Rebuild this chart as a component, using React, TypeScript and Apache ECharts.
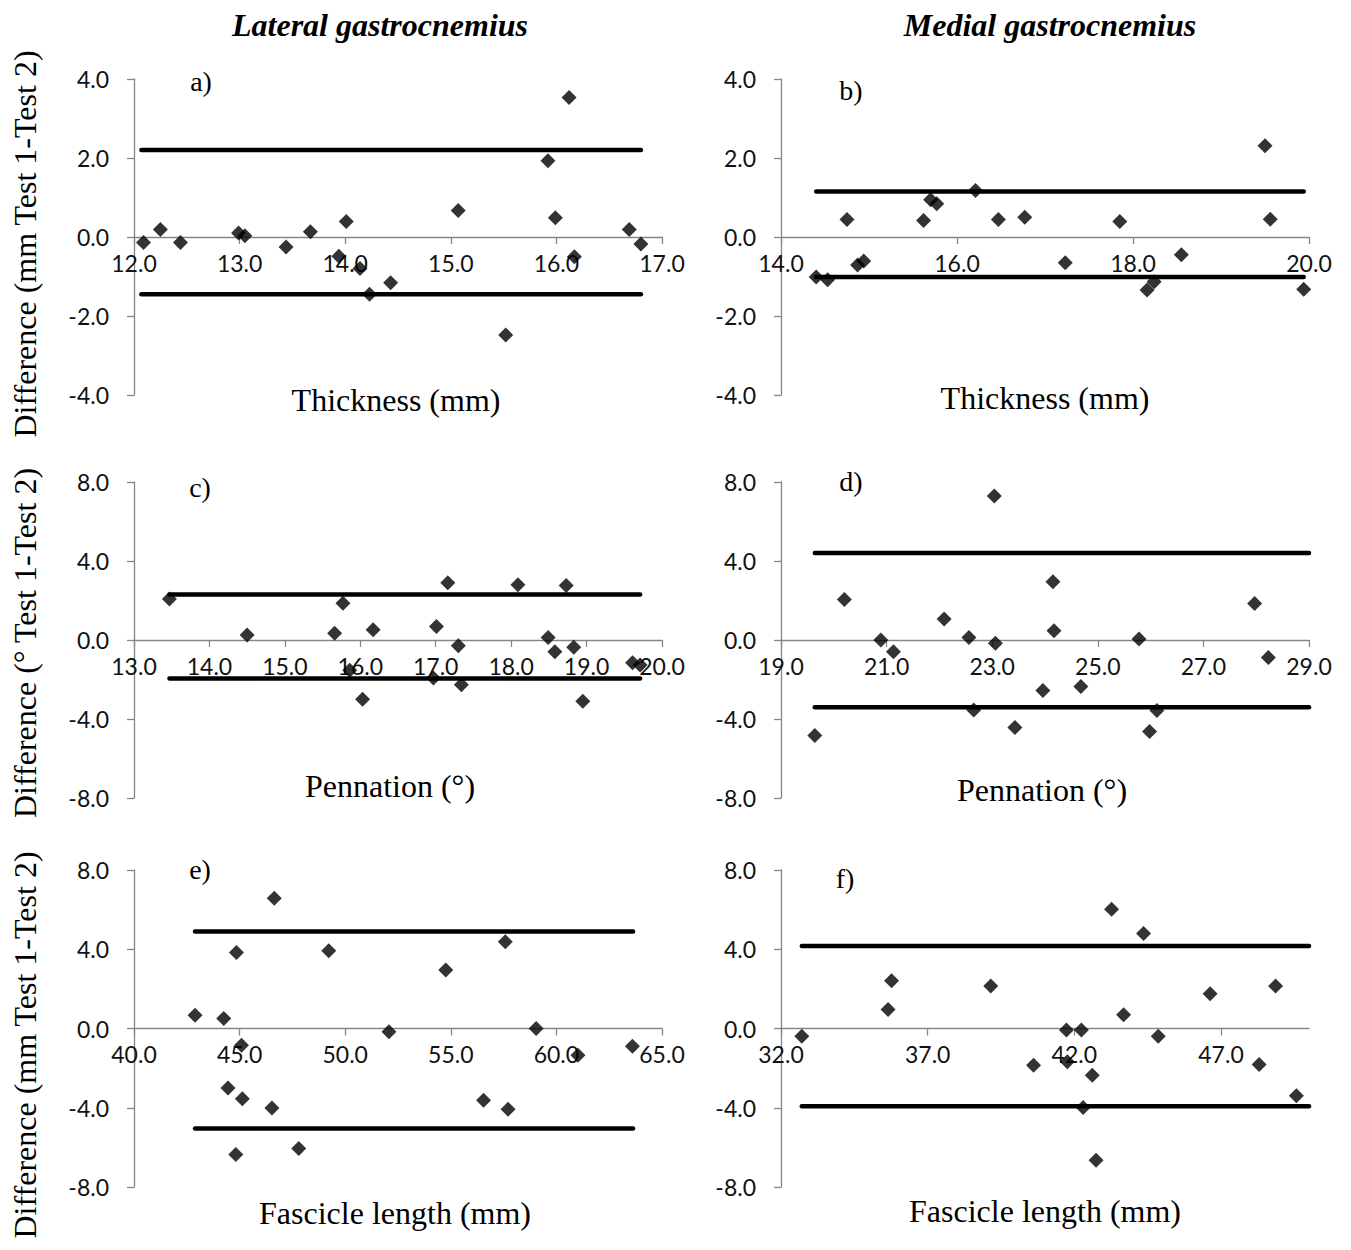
import React, { useEffect, useRef } from "react";
import * as echarts from "echarts";

// ---------- data ----------
// a) Lateral gastrocnemius – thickness
const aX = [12.09, 12.25, 12.44, 12.99, 13.05, 13.44, 13.67, 13.94, 14.01, 14.14, 14.23, 14.43, 15.07, 15.52, 15.92, 15.99, 16.12, 16.17, 16.69, 16.8];
const aY = [-0.14, 0.19, -0.14, 0.1, 0.03, -0.25, 0.13, -0.49, 0.39, -0.8, -1.45, -1.16, 0.67, -2.48, 1.93, 0.49, 3.53, -0.5, 0.19, -0.18];
const aLimits = [2.2, -1.45];
const aRange = [12.07, 16.8];
const aTicks = [12, 13, 14, 15, 16, 17];

// b) Medial gastrocnemius – thickness
const bX = [14.4, 14.53, 14.75, 14.87, 14.94, 15.62, 15.7, 15.77, 16.21, 16.47, 16.77, 17.23, 17.85, 18.16, 18.24, 18.55, 19.5, 19.56, 19.94];
const bY = [-1.01, -1.08, 0.44, -0.71, -0.61, 0.42, 0.94, 0.84, 1.18, 0.44, 0.5, -0.65, 0.39, -1.34, -1.13, -0.45, 2.31, 0.45, -1.32];
const bLimits = [1.15, -1.01];
const bRange = [14.4, 19.94];
const bTicks = [14, 16, 18, 20];

// c) Lateral gastrocnemius – pennation
const cX = [13.47, 14.5, 15.66, 15.77, 15.86, 16.03, 16.17, 16.97, 17.01, 17.16, 17.3, 17.34, 18.09, 18.49, 18.58, 18.73, 18.83, 18.95, 19.61, 19.71];
const cY = [2.08, 0.25, 0.34, 1.86, -1.53, -3.0, 0.52, -1.93, 0.68, 2.9, -0.29, -2.27, 2.8, 0.13, -0.59, 2.76, -0.37, -3.1, -1.15, -1.27];
const cLimits = [2.3, -1.95];
const cRange = [13.47, 19.71];
const cTicks = [13, 14, 15, 16, 17, 18, 19, 20];

// d) Medial gastrocnemius – pennation
const dX = [19.64, 20.2, 20.89, 21.13, 22.09, 22.56, 22.65, 23.04, 23.06, 23.43, 23.96, 24.15, 24.17, 24.68, 25.78, 25.98, 26.12, 27.97, 28.23];
const dY = [-4.83, 2.05, 0.0, -0.59, 1.06, 0.13, -3.54, 7.29, -0.17, -4.43, -2.56, 2.95, 0.47, -2.36, 0.05, -4.63, -3.57, 1.85, -0.89];
const dLimits = [4.41, -3.4];
const dRange = [19.64, 29.0];
const dTicks = [19, 21, 23, 25, 27, 29];

// e) Lateral gastrocnemius – fascicle length
const eX = [42.89, 44.25, 44.45, 44.82, 44.85, 45.09, 45.13, 46.53, 46.64, 47.8, 49.22, 52.07, 54.76, 56.55, 57.58, 57.71, 59.04, 61.02, 63.6];
const eY = [0.67, 0.51, -3.0, -6.36, 3.84, -0.84, -3.54, -4.01, 6.57, -6.06, 3.92, -0.17, 2.95, -3.62, 4.38, -4.07, 0.0, -1.35, -0.89];
const eLimits = [4.9, -5.05];
const eRange = [42.89, 63.63];
const eTicks = [40, 45, 50, 55, 60, 65];

// f) Medial gastrocnemius – fascicle length
const fX = [32.71, 35.65, 35.77, 39.15, 40.61, 41.73, 41.76, 42.24, 42.3, 42.61, 42.74, 43.27, 43.68, 44.36, 44.86, 46.63, 48.3, 48.86, 49.57];
const fY = [-0.39, 0.96, 2.41, 2.14, -1.85, -0.08, -1.68, -0.08, -3.99, -2.36, -6.65, 6.02, 0.69, 4.8, -0.39, 1.75, -1.82, 2.14, -3.4];
const fLimits = [4.16, -3.92];
const fRange = [32.71, 50.0];
const fTicks = [32, 37, 42, 47];

const yTicksSmall = [-4, -2, 0, 2, 4];
const yTicksLarge = [-8, -4, 0, 4, 8];

const columnTitles = ["Lateral gastrocnemius", "Medial gastrocnemius"];
const panelLabels = ["a)", "b)", "c)", "d)", "e)", "f)"];
const xNames = ["Thickness (mm)", "Thickness (mm)", "Pennation (°)", "Pennation (°)", "Fascicle length (mm)", "Fascicle length (mm)"];
const yNames = ["Difference (mm Test 1-Test 2)", "Difference (° Test 1-Test 2)", "Difference (mm Test 1-Test 2)"];

// ---------- layout ----------
const SERIF = "'Liberation Serif', 'Times New Roman', serif";
const SANS = "Lato, 'Open Sans', sans-serif";
const AXIS_GREY = "#868686";
const COL_LEFT = [134, 781];
const PLOT_W = 528;
const ROW_TOP = [79, 482, 870];
const ROW_H = [316, 316, 317];

const panels = [
  { xs: aX, ys: aY, lim: aLimits, range: aRange, xTicks: aTicks, yTicks: yTicksSmall },
  { xs: bX, ys: bY, lim: bLimits, range: bRange, xTicks: bTicks, yTicks: yTicksSmall },
  { xs: cX, ys: cY, lim: cLimits, range: cRange, xTicks: cTicks, yTicks: yTicksLarge },
  { xs: dX, ys: dY, lim: dLimits, range: dRange, xTicks: dTicks, yTicks: yTicksLarge },
  { xs: eX, ys: eY, lim: eLimits, range: eRange, xTicks: eTicks, yTicks: yTicksLarge },
  { xs: fX, ys: fY, lim: fLimits, range: fRange, xTicks: fTicks, yTicks: yTicksLarge },
];
const xMax = [17, 20, 20, 29, 65, 50];

const labelPos = [
  [201, 81], [851, 90], [200, 487], [851, 481], [200, 869], [845, 878],
];
const xNamePos = [
  [396, 400], [1045, 398], [390, 786], [1042, 790], [395, 1213], [1045, 1211],
];
const yNamePos = [[25, 244], [25, 643], [25, 1045]];
const titlePos = [[380, 25], [1050, 25]];

function buildOption() {
  const grid: any[] = [];
  const xAxis: any[] = [];
  const yAxis: any[] = [];
  const series: any[] = [];
  panels.forEach((p, i) => {
    const row = Math.floor(i / 2);
    const col = i % 2;
    grid.push({ left: COL_LEFT[col], top: ROW_TOP[row], width: PLOT_W, height: ROW_H[row], containLabel: false });
    const yMin = p.yTicks[0];
    const yMaxV = p.yTicks[p.yTicks.length - 1];
    // the x axis crosses at y = 0: shift it up from the grid's bottom edge
    const zeroOffset = -ROW_H[row] * (0 - yMin) / (yMaxV - yMin);
    xAxis.push({
      type: "value",
      gridIndex: i,
      position: "bottom",
      offset: zeroOffset,
      min: p.xTicks[0],
      max: xMax[i],
      axisLine: { show: true, onZero: false, lineStyle: { color: AXIS_GREY, width: 1.3 } },
      axisTick: { show: true, length: 7, customValues: p.xTicks, lineStyle: { color: AXIS_GREY, width: 1.3 } },
      axisLabel: {
        customValues: p.xTicks,
        formatter: (v: number) => v.toFixed(1),
        margin: 14,
        fontFamily: SANS,
        fontSize: 23,
        color: "#111",
      },
      splitLine: { show: false },
    });
    yAxis.push({
      type: "value",
      gridIndex: i,
      min: yMin,
      max: yMaxV,
      axisLine: { show: true, onZero: false, lineStyle: { color: AXIS_GREY, width: 1.3 } },
      axisTick: { show: true, length: 7, customValues: p.yTicks, lineStyle: { color: AXIS_GREY, width: 1.3 } },
      axisLabel: {
        customValues: p.yTicks,
        formatter: (v: number) => v.toFixed(1),
        margin: 25,
        fontFamily: SANS,
        fontSize: 23,
        color: "#111",
      },
      splitLine: { show: false },
    });
    p.lim.forEach((l) => {
      series.push({
        type: "line",
        xAxisIndex: i,
        yAxisIndex: i,
        data: [[p.range[0], l], [p.range[1], l]],
        symbol: "none",
        silent: true,
        lineStyle: { color: "#000", width: 4.5, cap: "round" },
        z: 2,
      });
    });
    series.push({
      type: "scatter",
      xAxisIndex: i,
      yAxisIndex: i,
      symbol: "diamond",
      symbolSize: 15,
      itemStyle: { color: "#000" },
      data: p.xs.map((x, k) => [x, p.ys[k]]),
      z: 3,
    });
  });

  const graphic: any[] = [];
  columnTitles.forEach((t, i) => {
    graphic.push({
      type: "text",
      x: titlePos[i][0],
      y: titlePos[i][1],
      style: {
        text: t,
        fontFamily: SERIF,
        fontSize: 32,
        fontWeight: "bold",
        fontStyle: "italic",
        fill: "#000",
        align: "center",
        verticalAlign: "middle",
      },
    });
  });
  panelLabels.forEach((t, i) => {
    graphic.push({
      type: "text",
      x: labelPos[i][0],
      y: labelPos[i][1],
      style: { text: t, fontFamily: SERIF, fontSize: 28, fill: "#000", align: "center", verticalAlign: "middle" },
    });
  });
  xNames.forEach((t, i) => {
    graphic.push({
      type: "text",
      x: xNamePos[i][0],
      y: xNamePos[i][1],
      style: { text: t, fontFamily: SERIF, fontSize: 32, fill: "#000", align: "center", verticalAlign: "middle" },
    });
  });
  yNames.forEach((t, i) => {
    graphic.push({
      type: "text",
      x: yNamePos[i][0],
      y: yNamePos[i][1],
      rotation: Math.PI / 2,
      style: { text: t, fontFamily: SERIF, fontSize: 32, fill: "#000", align: "center", verticalAlign: "middle" },
    });
  });

  return {
    animation: false,
    backgroundColor: "#fff",
    grid,
    xAxis,
    yAxis,
    series,
    graphic,
  };
}

export default function App() {
  const ref = useRef<HTMLDivElement>(null);
  useEffect(() => {
    if (!ref.current) return;
    const chart = echarts.init(ref.current, null, { renderer: "svg" });
    chart.setOption(buildOption());
    return () => chart.dispose();
  }, []);
  return (
    <div
      ref={ref}
      style={{ position: "absolute", left: 0, top: 0, width: 1351, height: 1250 }}
    />
  );
}
